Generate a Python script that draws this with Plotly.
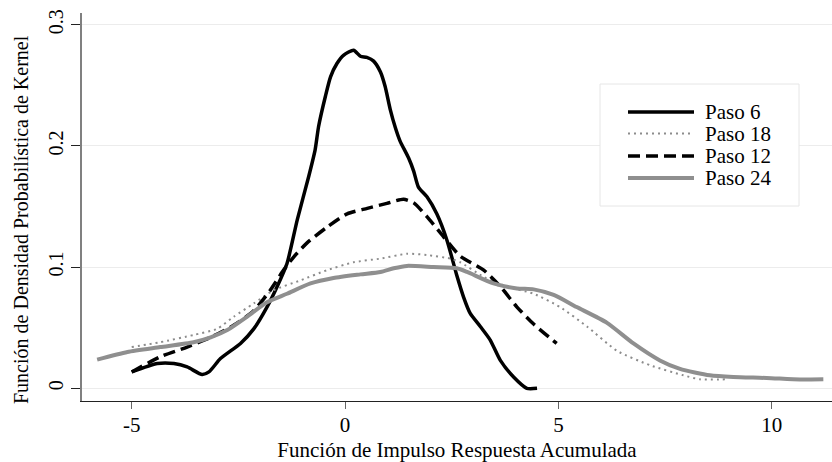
import plotly.graph_objects as go

# ---------------- data ----------------
# Paso 6
x6 = [-5.0, -4.40, -4.01, -3.70, -3.35, -3.19, -2.92, -2.45, -2.14, -1.83, -1.59, -1.36, -1.12,
      -0.85, -0.70, -0.62, -0.46, -0.34, -0.19, -0.03, 0.20, 0.36, 0.51, 0.67, 0.83, 0.94, 1.06, 1.18,
      1.29, 1.49, 1.61, 1.72, 1.92, 2.15, 2.39, 2.62, 2.78, 2.93, 3.17, 3.40, 3.64, 3.95, 4.26, 4.50]
y6 = [0.0135, 0.0204, 0.0204, 0.0176, 0.0113, 0.0135, 0.0245, 0.037, 0.049, 0.067, 0.084, 0.103, 0.139,
      0.175, 0.197, 0.216, 0.241, 0.257, 0.268, 0.275, 0.279, 0.274, 0.273, 0.270, 0.261, 0.249, 0.230, 0.215,
      0.204, 0.190, 0.179, 0.166, 0.158, 0.144, 0.122, 0.093, 0.075, 0.062, 0.051, 0.040, 0.023, 0.0093, 0.0, 0.0]

# Paso 18
x18 = [-5.0, -4.33, -3.55, -3.00, -2.61, -2.14, -1.67, -1.05, -0.42, 0.20, 0.83, 1.45, 1.92, 2.47,
       2.70, 3.25, 3.79, 4.42, 5.04, 5.67, 6.37, 7.15, 7.93, 8.32, 8.95]
y18 = [0.034, 0.038, 0.044, 0.049, 0.059, 0.070, 0.081, 0.089, 0.0975, 0.104, 0.107, 0.111, 0.110, 0.107,
       0.104, 0.092, 0.084, 0.078, 0.067, 0.051, 0.031, 0.019, 0.0107, 0.0074, 0.0074]

# Paso 12
x12 = [-5.0, -4.33, -3.70, -3.15, -2.61, -2.14, -1.75, -1.44, -1.20, -0.89, -0.42, 0.05, 0.52, 0.98,
       1.37, 1.61, 1.92, 2.31, 2.70, 3.25, 3.64, 4.03, 4.42, 4.96]
y12 = [0.0135, 0.026, 0.034, 0.042, 0.052, 0.064, 0.081, 0.0975, 0.1085, 0.120, 0.133, 0.144, 0.1485, 0.1526,
       0.156, 0.153, 0.1416, 0.125, 0.109, 0.0975, 0.084, 0.067, 0.053, 0.037]

# Paso 24
x24 = [-5.81, -5.10, -4.33, -3.55, -3.15, -2.76, -2.30, -1.83, -1.36, -0.81, -0.27, 0.36, 0.83, 1.14,
       1.45, 2.07, 2.62, 2.86, 3.48, 4.03, 4.42, 4.89, 5.43, 6.14, 6.76, 7.38, 7.85, 8.55, 9.10, 9.88,
       10.66, 11.21]
y24 = [0.0237, 0.030, 0.034, 0.038, 0.042, 0.048, 0.059, 0.071, 0.078, 0.0865, 0.091, 0.094, 0.096, 0.099,
       0.101, 0.100, 0.099, 0.096, 0.0865, 0.0824, 0.0816, 0.077, 0.067, 0.054, 0.037, 0.023, 0.016, 0.0107,
       0.0093, 0.0085, 0.0072, 0.0074]

series_names = ["Paso 6", "Paso 18", "Paso 12", "Paso 24"]
x_ticks = [-5, 0, 5, 10]
x_tick_labels = ["-5", "0", "5", "10"]
y_ticks = [0, 0.1, 0.2, 0.3]
y_tick_labels = ["0", "0.1", "0.2", "0.3"]
x_title = "Función de Impulso Respuesta Acumulada"
y_title = "Función de Densidad Probabilística de Kernel"

# ---------------- styling ----------------
FONT = "Liberation Serif"
W, H = 832, 462
ML, MR, MT, MB = 82, 0, 13, 61
PW, PH = W - ML - MR, H - MT - MB

styles = [
    dict(color="black", width=3.5),
    dict(color="#8c8c8c", width=2, dash="2px,4px"),
    dict(color="black", width=3.5, dash="12px,6px"),
    dict(color="#8f8f8f", width=4),
]
xs = [x6, x18, x12, x24]
ys = [y6, y18, y12, y24]


def px_x(p):
    return (p - ML) / PW


def px_y(p):
    return (H - MB - p) / PH


fig = go.Figure()
for name, xv, yv, st in zip(series_names, xs, ys, styles):
    fig.add_trace(go.Scatter(x=xv, y=yv, mode="lines", name=name, showlegend=False,
                             line=dict(**st, shape="spline", smoothing=0.6)))

# legend box drawn by hand (Stata-like long samples)
shapes = [dict(type="rect", xref="paper", yref="paper",
               x0=px_x(600), x1=px_x(799), y0=px_y(206), y1=px_y(84),
               line=dict(color="#e6e6e6", width=1), fillcolor="white", layer="above")]
annotations = []
legend_rows = [112, 133.5, 156, 178]
for name, st, ry in zip(series_names, styles, legend_rows):
    shapes.append(dict(type="line", xref="paper", yref="paper",
                       x0=px_x(628), x1=px_x(694), y0=px_y(ry), y1=px_y(ry),
                       line=st, layer="above"))
    annotations.append(dict(text=name, xref="paper", yref="paper", x=px_x(703), y=px_y(ry),
                            xanchor="left", yanchor="middle", showarrow=False,
                            font=dict(family=FONT, size=21, color="black")))

# y-axis title placed as in the reference (slightly below the plot centre)
annotations.append(dict(text=y_title, xref="paper", yref="paper", x=px_x(21), y=px_y(220),
                        xanchor="center", yanchor="middle", textangle=-90, showarrow=False,
                        font=dict(family=FONT, size=20, color="black")))

fig.update_layout(
    width=W, height=H,
    margin=dict(l=ML, r=MR, t=MT, b=MB),
    paper_bgcolor="white", plot_bgcolor="white",
    font=dict(family=FONT, size=20, color="black"),
    showlegend=False,
    shapes=shapes, annotations=annotations,
    xaxis=dict(range=[-6.165, 11.413], tickvals=x_ticks, ticktext=x_tick_labels,
               ticks="outside", ticklen=7,
               tickcolor="#666", tickwidth=1, showline=True, linecolor="#222", linewidth=1.3,
               showgrid=False, zeroline=False, automargin=False, ticklabelstandoff=-2,
               tickfont=dict(family=FONT, size=21),
               title=dict(text=x_title, standoff=11, font=dict(family=FONT, size=21))),
    yaxis=dict(range=[-0.0105, 0.3097], tickvals=y_ticks, ticktext=y_tick_labels,
               ticks="outside", ticklen=9, tickcolor="#222", tickwidth=1,
               showline=True, linecolor="#808080", linewidth=1.6,
               showgrid=True, gridcolor="#ececec", gridwidth=1, zeroline=False,
               automargin=False, ticklabelstandoff=0,
               tickangle=-90, tickfont=dict(family=FONT, size=20)),
)

fig.write_html("out.html", config={"displayModeBar": False},
               post_script="document.body.style.margin='0';")
